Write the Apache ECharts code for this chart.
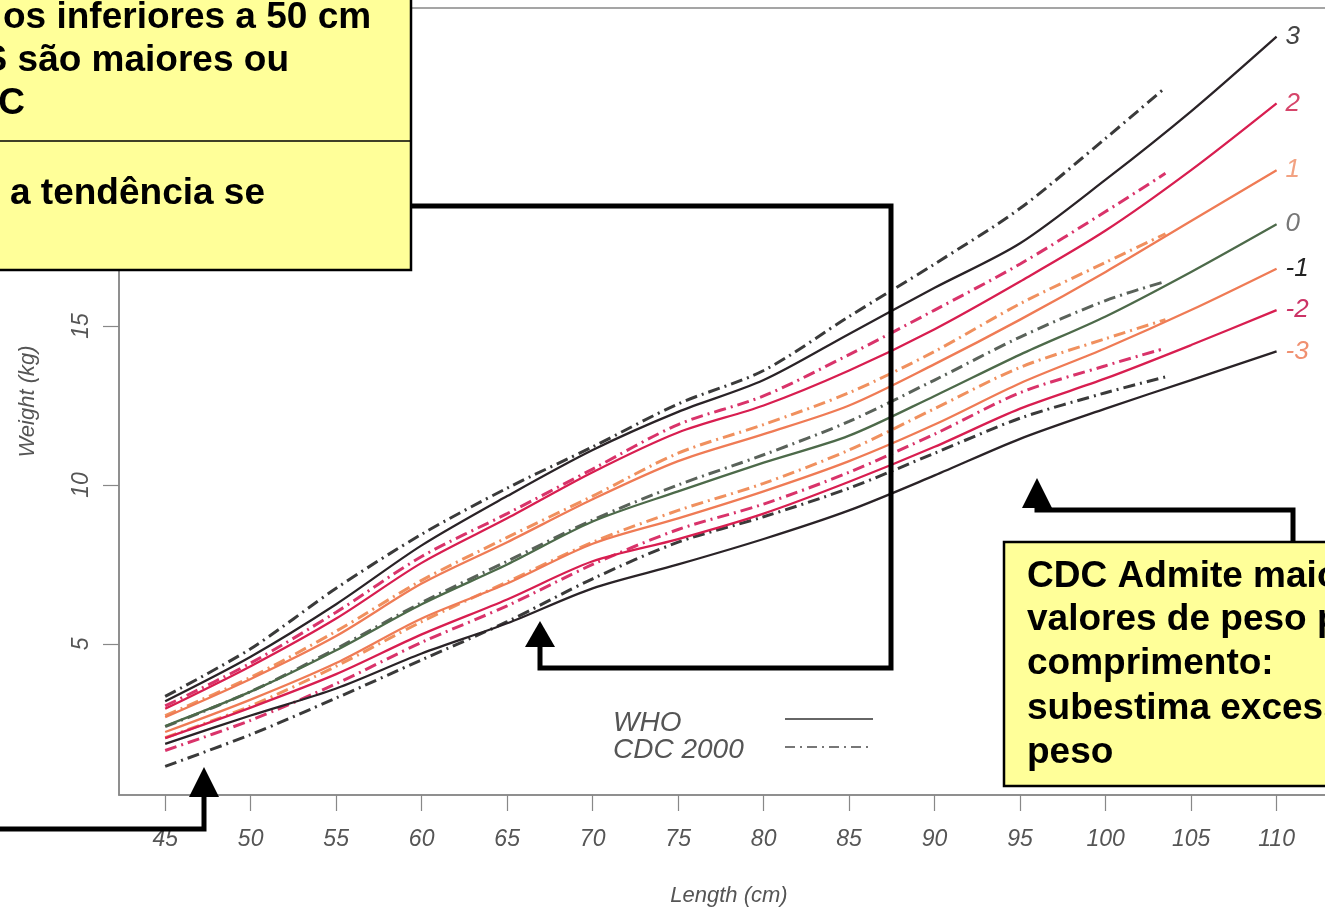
<!DOCTYPE html>
<html>
<head>
<meta charset="utf-8">
<script src="https://cdn.jsdelivr.net/npm/echarts@6/dist/echarts.min.js"></script>
<style>
html,body{margin:0;padding:0;background:#fff;}
#chart{width:1325px;height:908px;}
</style>
</head>
<body>
<div id="chart"></div>
<script>
// ---- Data ----
const lengthsWHO = [45, 50, 55, 60, 65, 70, 75, 80, 85, 90, 95, 100, 105, 110];
const who3  = [3.2, 4.6, 6.25, 8.1, 9.65, 11.1, 12.3, 13.3, 14.75, 16.2, 17.6, 19.6, 21.75, 24.1];
const who2  = [2.96, 4.3, 5.8, 7.55, 8.95, 10.4, 11.65, 12.5, 13.6, 14.9, 16.4, 18.0, 19.9, 22.0];
const who1  = [2.7, 3.9, 5.25, 6.9, 8.2, 9.55, 10.75, 11.6, 12.5, 13.8, 15.2, 16.7, 18.3, 19.9];
const who0  = [2.42, 3.5, 4.8, 6.25, 7.5, 8.85, 9.8, 10.7, 11.55, 12.8, 14.1, 15.3, 16.7, 18.2];
const whoM1 = [2.23, 3.25, 4.4, 5.8, 6.9, 8.15, 8.95, 9.8, 10.75, 11.9, 13.2, 14.3, 15.5, 16.8];
const whoM2 = [2.04, 3.0, 4.05, 5.3, 6.4, 7.6, 8.3, 9.1, 10.1, 11.2, 12.4, 13.35, 14.4, 15.5];
const whoM3 = [1.86, 2.75, 3.6, 4.7, 5.65, 6.75, 7.5, 8.3, 9.2, 10.3, 11.45, 12.4, 13.3, 14.2];

const lengthsCDC = [45, 50, 55, 60, 65, 70, 75, 80, 85, 90, 95, 100, 103.5];
const cdc3  = [3.35, 4.85, 6.75, 8.45, 9.9, 11.2, 12.55, 13.6, 15.3, 16.95, 18.7, 20.9, 22.5];
const cdc2  = [3.05, 4.4, 6.0, 7.75, 9.1, 10.5, 11.9, 12.8, 14.1, 15.5, 16.95, 18.6, 19.8];
const cdc1  = [2.75, 3.95, 5.4, 7.0, 8.35, 9.65, 11.0, 11.9, 12.9, 14.2, 15.7, 17.0, 17.9];
const cdc0  = [2.4, 3.5, 4.85, 6.3, 7.6, 8.9, 10.0, 10.95, 12.0, 13.3, 14.65, 15.8, 16.4];
const cdcM1 = [2.05, 3.05, 4.3, 5.7, 6.95, 8.2, 9.2, 10.05, 11.1, 12.4, 13.7, 14.6, 15.2];
const cdcM2 = [1.65, 2.6, 3.75, 5.05, 6.2, 7.5, 8.6, 9.4, 10.4, 11.6, 12.9, 13.75, 14.3];
const cdcM3 = [1.15, 2.15, 3.3, 4.5, 5.7, 7.05, 8.2, 9.0, 9.9, 11.0, 12.1, 12.9, 13.4];

const zLabels = ['3', '2', '1', '0', '-1', '-2', '-3'];
const xTicks = [45, 50, 55, 60, 65, 70, 75, 80, 85, 90, 95, 100, 105, 110];
const yTicks = [5, 10, 15, 20];
const legendNames = ['WHO', 'CDC 2000'];
const xName = 'Length (cm)';
const yName = 'Weight (kg)';
const note1Lines = ['os inferiores a 50 cm', 'OMS são maiores ou', 'CDC'];
const note2Lines = ['a tendência se'];
const note3Lines = ['CDC Admite maiores', 'valores de peso para', 'comprimento:', 'subestima excesso de', 'peso'];

// ---- Styles ----
const whoSets = [who3, who2, who1, who0, whoM1, whoM2, whoM3];
const cdcSets = [cdc3, cdc2, cdc1, cdc0, cdcM1, cdcM2, cdcM3];
const whoColors = ['#2a2327', '#d81e50', '#ef7b55', '#4d6a4a', '#ef7b55', '#d81e50', '#2a2327'];
const cdcColors = ['#3a3a3a', '#d9336a', '#f0905e', '#5a625a', '#f0905e', '#d9336a', '#3a3a3a'];
const labelColors = ['#444444', '#d6456a', '#f2a282', '#777777', '#222222', '#cc3366', '#f09070'];
const FONT = "'Liberation Sans', Arial, Helvetica, sans-serif";

const series = [];
cdcSets.forEach((vals, i) => {
  series.push({
    type: 'line', name: 'CDC ' + zLabels[i], showSymbol: false, smooth: 0.3,
    data: lengthsCDC.map((x, k) => [x, vals[k]]),
    lineStyle: { color: cdcColors[i], width: 3, type: [12, 5, 2, 5] },
    z: 2
  });
});
whoSets.forEach((vals, i) => {
  series.push({
    type: 'line', name: 'WHO ' + zLabels[i], showSymbol: false, smooth: 0.3,
    data: lengthsWHO.map((x, k) => [x, vals[k]]),
    lineStyle: { color: whoColors[i], width: 2.3, type: 'solid' },
    endLabel: {
      show: true, formatter: zLabels[i], color: labelColors[i],
      fontSize: 26, fontStyle: 'italic', fontFamily: FONT, distance: 9
    },
    z: 3
  });
});

// ---- Annotation graphics ----
const BOLD = 'bold 37px ' + FONT;
function txt(x, y, s, align) {
  return {
    type: 'text', z: 102,
    style: { x: x, y: y, text: s, font: BOLD, fill: '#000', textAlign: align, textVerticalAlign: 'middle' }
  };
}
const graphics = [
  // top-left box
  { type: 'rect', z: 100, shape: { x: -5, y: -5, width: 416, height: 275 },
    style: { fill: '#ffff99', stroke: '#000', lineWidth: 2.5 } },
  { type: 'line', z: 101, shape: { x1: 0, y1: 141, x2: 411, y2: 141 },
    style: { stroke: '#000', lineWidth: 1.5 } },
  txt(3, 18, note1Lines[0], 'left'),
  txt(289, 61, note1Lines[1], 'right'),
  txt(25, 104, note1Lines[2], 'right'),
  txt(10, 194, note2Lines[0], 'left'),
  // arrow 1
  { type: 'polyline', z: 99, shape: { points: [[412, 206], [891, 206], [891, 668], [540, 668], [540, 640]] },
    style: { stroke: '#000', lineWidth: 5, fill: null } },
  { type: 'polygon', z: 99, shape: { points: [[540, 621], [525, 647], [555, 647]] }, style: { fill: '#000' } },
  // arrow 2
  { type: 'polyline', z: 99, shape: { points: [[-5, 829], [204, 829], [204, 790]] },
    style: { stroke: '#000', lineWidth: 5, fill: null } },
  { type: 'polygon', z: 99, shape: { points: [[204, 767], [189, 797], [219, 797]] }, style: { fill: '#000' } },
  // arrow 3
  { type: 'polyline', z: 99, shape: { points: [[1293, 542], [1293, 510], [1037, 510], [1037, 500]] },
    style: { stroke: '#000', lineWidth: 5, fill: null } },
  { type: 'polygon', z: 99, shape: { points: [[1037, 478], [1022, 508], [1052, 508]] }, style: { fill: '#000' } },
  // CDC box
  { type: 'rect', z: 100, shape: { x: 1004, y: 542, width: 340, height: 244 },
    style: { fill: '#ffff99', stroke: '#000', lineWidth: 2.5 } },
  txt(1027, 577, note3Lines[0], 'left'),
  txt(1027, 620, note3Lines[1], 'left'),
  txt(1027, 664, note3Lines[2], 'left'),
  txt(1027, 709, note3Lines[3], 'left'),
  txt(1027, 753, note3Lines[4], 'left'),
  // legend
  { type: 'text', z: 50, style: { x: 613, y: 723, text: legendNames[0], font: 'italic 28px ' + FONT, fill: '#555', textVerticalAlign: 'middle' } },
  { type: 'text', z: 50, style: { x: 613, y: 750, text: legendNames[1], font: 'italic 28px ' + FONT, fill: '#555', textVerticalAlign: 'middle' } },
  { type: 'line', z: 50, shape: { x1: 785, y1: 719, x2: 873, y2: 719 }, style: { stroke: '#666', lineWidth: 2 } },
  { type: 'line', z: 50, shape: { x1: 785, y1: 747, x2: 869, y2: 747 }, style: { stroke: '#777', lineWidth: 2, lineDash: [10, 5, 2, 5] } }
];

const chart = echarts.init(document.getElementById('chart'), null, { renderer: 'canvas' });
chart.setOption({
  animation: false,
  backgroundColor: '#fff',
  grid: { left: 119, right: -14, top: 8, bottom: 113, show: true, borderColor: '#888', borderWidth: 1.5,
          containLabel: false, outerBoundsMode: 'none' },
  xAxis: {
    type: 'value', min: 42.3, max: 113.65,
    name: xName, nameLocation: 'middle', nameGap: 90,
    nameTextStyle: { fontSize: 22, fontStyle: 'italic', color: '#555', fontFamily: FONT },
    axisLine: { show: true, lineStyle: { color: '#888', width: 1.5 } },
    axisTick: { show: true, length: 16, customValues: xTicks, lineStyle: { color: '#888', width: 1.2 } },
    axisLabel: { customValues: xTicks, margin: 33, fontSize: 23, fontStyle: 'italic', color: '#555', fontFamily: FONT },
    splitLine: { show: false }
  },
  yAxis: {
    type: 'value', min: 0.25, max: 25,
    name: yName, nameLocation: 'middle', nameGap: 80,
    nameTextStyle: { fontSize: 22, fontStyle: 'italic', color: '#555', fontFamily: FONT },
    axisLine: { show: true, lineStyle: { color: '#888', width: 1.5 } },
    axisTick: { show: true, length: 16, customValues: yTicks, lineStyle: { color: '#888', width: 1.2 } },
    axisLabel: { customValues: yTicks, rotate: 90, margin: 26, fontSize: 23, fontStyle: 'italic', color: '#555', fontFamily: FONT },
    splitLine: { show: false }
  },
  series: series,
  graphic: { elements: graphics }
});
</script>
</body>
</html>
